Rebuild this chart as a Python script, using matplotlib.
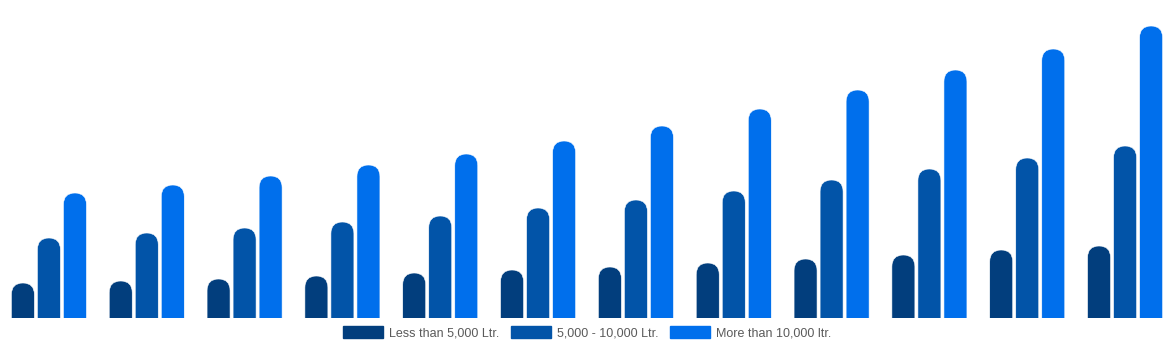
import numpy as np
import matplotlib.pyplot as plt
from matplotlib.patches import FancyBboxPatch

plt.rcParams['font.family'] = ['Liberation Sans', 'DejaVu Sans']

groups = list(range(1, 13))
series = ['Less than 5,000 Ltr.', '5,000 - 10,000 Ltr.', 'More than 10,000 ltr.']
small = [35, 37, 39, 42, 45, 48, 51, 55, 59, 63, 68, 72]
medium = [80, 85, 90, 96, 102, 110, 118, 127, 138, 149, 160, 172]
large = [125, 133, 142, 153, 164, 177, 192, 209, 228, 248, 269, 292]
colors = ['#023e7d', '#0254a8', '#006fec']

fig = plt.figure(figsize=(11.74, 3.5), dpi=100)
ax = fig.add_axes([0, 32 / 350, 1, 318 / 350])

x = np.arange(len(groups))
width = 0.235
step = 0.266
ax.set_xlim(-0.5, len(groups) - 0.5)
ax.set_ylim(0, 318)

# rounded caps: px per x unit / px per y unit
aspect = (1174 / len(groups)) / 1.0
r = 11.5 / aspect

for i, (vals, c, lab) in enumerate(zip([small, medium, large], colors, series)):
    bars = ax.bar(x + (i - 1) * step, vals, width, color=c, label=lab)
    for b in bars:
        b.set_visible(False)
        p = FancyBboxPatch((b.get_x(), -20), b.get_width(), b.get_height() + 20,
                           boxstyle=f"round,pad=0,rounding_size={r}",
                           mutation_aspect=aspect, facecolor=c,
                           edgecolor='white', linewidth=0.4)
        ax.add_patch(p)

ax.axis('off')

handles = [plt.Rectangle((0, 0), 1, 1, color=c) for c in colors]
fig.legend(handles, series, loc='center', bbox_to_anchor=(0.5, 17 / 350),
           ncol=3, frameon=False, fontsize=9, handlelength=3.2, handleheight=1.05,
           handletextpad=0.5, columnspacing=0.9, borderpad=0, labelcolor='#5a5a5a')

fig.savefig('out.png', dpi=100)
